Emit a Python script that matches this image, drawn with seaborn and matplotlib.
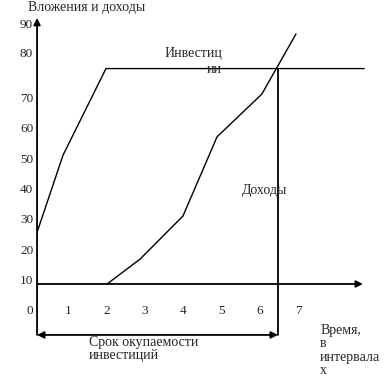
import matplotlib
matplotlib.use("Agg")
import matplotlib.pyplot as plt
import seaborn as sns

# Time is in intervals, value in the chart's own units
invest_t = [0.27, 0.95, 2.07, 8.81]
invest_v = [26.0, 51.5, 80.0, 80.0]
income_t = [2.10, 2.96, 4.08, 4.97, 6.14, 7.03]
income_v = [9.0, 17.2, 31.4, 57.5, 71.6, 91.4]

x_ticks = [0, 1, 2, 3, 4, 5, 6, 7]
y_ticks = [10, 20, 30, 40, 50, 60, 70, 84.8, 94.4]
y_labels = ["10", "20", "30", "40", "50", "60", "70", "80", "90"]

axis_t = 0.27      # vertical axis
axis_top = 96.7
base_v = 9.0       # time axis
base_end = 8.78
payback_t = 6.56   # payback moment
bottom_v = -7.8    # payback period arrow

sns.set_style("white")
plt.rcParams['font.family'] = ['Liberation Serif', 'DejaVu Serif']

fig = plt.figure(figsize=(3.85, 3.80), dpi=100)
ax = fig.add_axes([0, 0, 1, 1])
ax.set_xlim(-0.697, 9.355)
ax.set_ylim(-22.65, 102.6)
ax.axis('off')

sns.lineplot(x=invest_t, y=invest_v, ax=ax, color="black", lw=1.0,
             sort=False, estimator=None)
sns.lineplot(x=income_t, y=income_v, ax=ax, color="black", lw=1.0,
             sort=False, estimator=None)

arrow = dict(color="black", lw=1.3, mutation_scale=10, shrinkA=0, shrinkB=0)
# axes
ax.annotate("", xy=(axis_t, axis_top), xytext=(axis_t, bottom_v),
            arrowprops=dict(arrowstyle="-|>", **arrow))
ax.annotate("", xy=(base_end, base_v), xytext=(axis_t, base_v),
            arrowprops=dict(arrowstyle="-|>", **arrow))
# payback line and period
ax.plot([payback_t, payback_t], [invest_v[-1], bottom_v], color="black", lw=1.3)
ax.annotate("", xy=(payback_t, bottom_v), xytext=(axis_t, bottom_v),
            arrowprops=dict(arrowstyle="<|-|>", **arrow))

# tick labels
for t in x_ticks:
    ax.text(t + 0.09, 0, str(t), ha="center", va="center", fontsize=9.5)
for v, lab in zip(y_ticks, y_labels):
    ax.text(0.17, v, lab, ha="right", va="center", fontsize=9.5)

# annotations
ax.text(0.03, 100.0, "Вложения и доходы", ha="left", va="center", fontsize=10)
ax.text(5.10, 85.1, "Инвестиц", ha="right", va="center", fontsize=10)
ax.text(5.10, 79.6, "ии", ha="right", va="center", fontsize=10)
ax.text(6.22, 39.7, "Доходы", ha="center", va="center", fontsize=10)
ax.text(1.63, -12.4, "Срок окупаемости\nинвестиций", ha="left", va="center",
        fontsize=10, linespacing=1.0)
ax.text(7.66, -12.9, "Время,\nв\nинтервала\nх", ha="left", va="center",
        fontsize=10, linespacing=1.05)

plt.savefig("out.png", dpi=100)
